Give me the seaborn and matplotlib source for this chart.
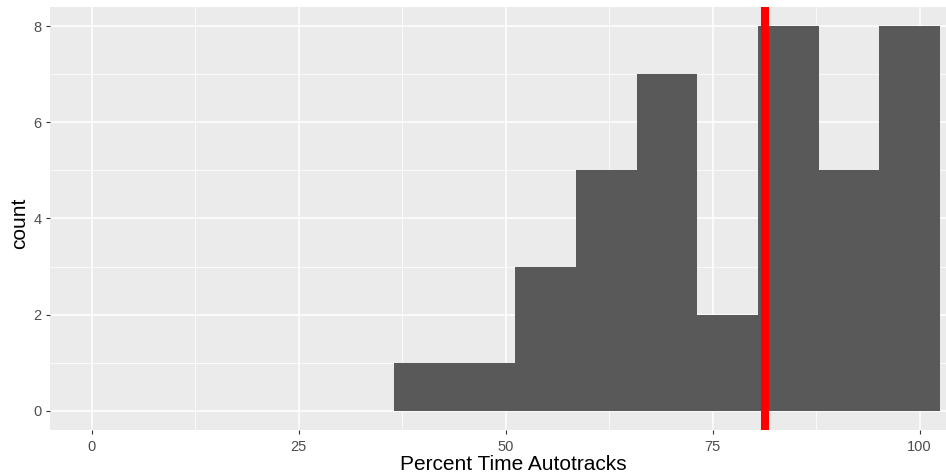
import numpy as np
import pandas as pd
import matplotlib
matplotlib.use("Agg")
import matplotlib.pyplot as plt
import seaborn as sns
from matplotlib.ticker import FixedLocator

# Data
bin_edges = [36.5, 43.83, 51.16, 58.49, 65.82, 73.15, 80.48, 87.81, 95.14, 102.47]
bin_counts = [1, 1, 3, 5, 7, 2, 8, 5, 8]
reference_value = 81.3
x_ticks = [0, 25, 50, 75, 100]
y_ticks = [0, 2, 4, 6, 8]

centers = [(a + b) / 2 for a, b in zip(bin_edges[:-1], bin_edges[1:])]
df = pd.DataFrame({"x": centers, "w": bin_counts})

sns.set_theme(style="darkgrid")
plt.rcParams["font.family"] = ["Liberation Sans", "DejaVu Sans"]

fig = plt.figure(figsize=(9.46, 4.75), dpi=100)
ax = fig.add_axes([50 / 946, 45 / 475, 896 / 946, 423 / 475])
ax.set_facecolor("#EBEBEB")

sns.histplot(data=df, x="x", weights="w", bins=bin_edges, ax=ax,
             color="#595959", alpha=1, edgecolor="none", linewidth=0, zorder=2)

ax.axvline(reference_value, color="#FF0000", linewidth=5.8, zorder=3)

ax.set_xlim(-5.03, 103.2)
ax.set_ylim(-0.4, 8.4)
ax.xaxis.set_major_locator(FixedLocator(x_ticks))
ax.yaxis.set_major_locator(FixedLocator(y_ticks))
ax.xaxis.set_minor_locator(FixedLocator([12.5, 37.5, 62.5, 87.5]))
ax.yaxis.set_minor_locator(FixedLocator([1, 3, 5, 7]))
ax.grid(which="major", color="white", linewidth=1.1, zorder=0)
ax.grid(which="minor", color="white", linewidth=0.55, zorder=0)
ax.set_axisbelow(True)
for s in ax.spines.values():
    s.set_visible(False)

ax.tick_params(axis="both", which="major", length=3, width=0.8, color="#333333",
               labelsize=10.5, labelcolor="#4D4D4D", bottom=True, left=True)
ax.tick_params(axis="x", which="major", pad=4.5)
ax.tick_params(axis="y", which="major", pad=3)
ax.tick_params(axis="both", which="minor", length=0)

ax.set_xlabel("Percent Time Autotracks", fontsize=15, color="black")
ax.xaxis.label.set_va("bottom")
ax.xaxis.set_label_coords(513.5 / 946, 0.5 / 475, transform=fig.transFigure)
ax.set_ylabel("count", fontsize=15, color="black")
ax.yaxis.label.set_va("baseline")
ax.yaxis.set_label_coords(25 / 946, 1 - 223 / 475, transform=fig.transFigure)

fig.savefig("out.png", dpi=100)
